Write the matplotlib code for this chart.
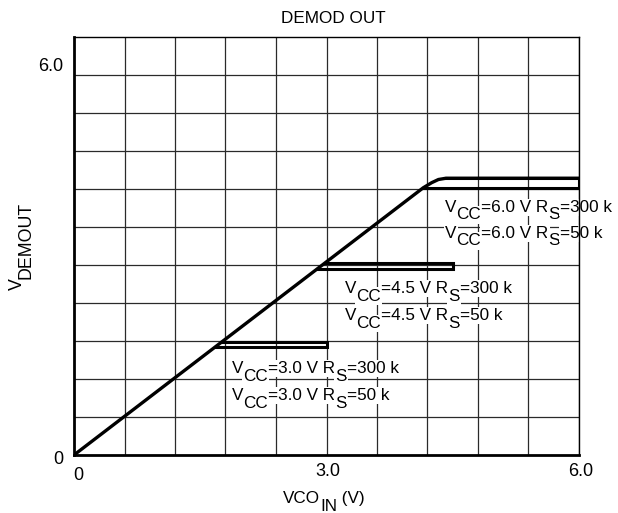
import numpy as np
import matplotlib
matplotlib.use("Agg")
import matplotlib.pyplot as plt

plt.rcParams['font.family'] = ['Liberation Sans', 'DejaVu Sans']

# transfer curve (VCO_IN -> V_DEMOUT)
curve_x = [0.0, 4.15, 4.25, 4.33, 4.42, 6.0]
curve_y = [0.0, 4.22, 4.30, 4.35, 4.37, 4.37]

# saturation bands per supply voltage
vcc = ['3.0', '4.5', '6.0']
band_x0_lo = [1.68, 2.89, 4.15]
band_x0_hi = [1.76, 2.98, 4.42]
band_x1 = [3.0, 4.5, 6.0]
band_lo = [1.71, 2.94, 4.22]
band_hi = [1.79, 3.03, 4.37]
rs_vals = ['300', '50']

# label anchors (left x, baseline y for the 300 k and 50 k lines)
lab_x = [1.877, 3.22, 4.41]
lab_y300 = [1.295, 2.56, 3.84]
lab_y50 = [0.868, 2.13, 3.43]

FS = 12.3
SUB = 5.5  # subscript drop in points

fig = plt.figure(figsize=(6.18, 5.13), dpi=100)
ax = fig.add_axes([74 / 618, 1 - 455 / 513, 505 / 618, 418 / 513])

ax.set_xlim(0, 6.0)
ax.set_ylim(0, 6.6)

grid_c = '#2a2a2a'
for gx in np.arange(0.6, 6.0, 0.6):
    ax.axvline(gx, color=grid_c, lw=0.9, zorder=1)
for gy in np.arange(0.6, 6.6, 0.6):
    ax.axhline(gy, color=grid_c, lw=0.9, zorder=1)

for i in range(len(vcc)):
    xs = [band_x0_lo[i], band_x1[i], band_x1[i], band_x0_hi[i]]
    ys = [band_lo[i], band_lo[i], band_hi[i], band_hi[i]]
    ax.plot(xs, ys, color='black', lw=2.2, solid_joinstyle='miter', zorder=4)

ax.plot(curve_x, curve_y, color='black', lw=2.4, zorder=5, solid_capstyle='butt')


def chain_text(x, y, parts, transform, box=True):
    # parts: list of (string, is_subscript); subscripts keep full size, just lowered
    kw = dict(fontsize=FS, zorder=3)
    if box:
        kw['bbox'] = dict(facecolor='white', edgecolor='none', pad=0.8)
    prev = ax.text(x, y, parts[0][0], transform=transform, ha='left', va='baseline', **kw)
    prev_sub = parts[0][1]
    for s, is_sub in parts[1:]:
        dy = 0
        if is_sub and not prev_sub:
            dy = -SUB
        elif prev_sub and not is_sub:
            dy = SUB
        prev = ax.annotate(s, xy=(1, 0), xycoords=prev, xytext=(0, dy),
                           textcoords='offset points', ha='left', va='bottom',
                           annotation_clip=False, **kw)
        prev_sub = is_sub


for i in range(len(vcc)):
    for ly, rs in zip([lab_y300[i], lab_y50[i]], rs_vals):
        chain_text(lab_x[i], ly,
                   [('V', False), ('CC', True), ('=' + vcc[i] + ' V R', False),
                    ('S', True), ('=' + rs + ' k', False)], ax.transData)

for side in ['top', 'right']:
    ax.spines[side].set_linewidth(1.0)
for side in ['left', 'bottom']:
    ax.spines[side].set_linewidth(2.0)
for s in ax.spines.values():
    s.set_zorder(6)

ax.set_xticks([])
ax.set_yticks([])

fig.text(333 / 618, 1 - 19 / 513, 'DEMOD OUT', ha='center', va='center', fontsize=FS)
fig.text(63 / 618, 1 - 67 / 513, '6.0', ha='right', va='center', fontsize=FS + 0.7)
fig.text(63 / 618, 1 - 460 / 513, '0', ha='right', va='center', fontsize=FS + 0.7)
fig.text(78 / 618, 1 - 476 / 513, '0', ha='center', va='center', fontsize=FS + 0.7)
fig.text(328 / 618, 1 - 471 / 513, '3.0', ha='center', va='center', fontsize=FS + 0.7)
fig.text(581 / 618, 1 - 471 / 513, '6.0', ha='center', va='center', fontsize=FS + 0.7)

# x label: VCO_IN (V)
chain_text(283 / 618, 1 - 503 / 513, [('VCO', False), ('IN', True), (' (V)', False)],
           fig.transFigure, box=False)

# y label: V_DEMOUT (rotated)
fig.text(17.5 / 618, 1 - 284 / 513, 'V', ha='center', va='center', rotation=90, fontsize=FS + 0.5)
fig.text(25.5 / 618, 1 - 240 / 513, 'DEMOUT', ha='center', va='center', rotation=90, fontsize=FS + 0.5)

fig.savefig('out.png', dpi=100)
